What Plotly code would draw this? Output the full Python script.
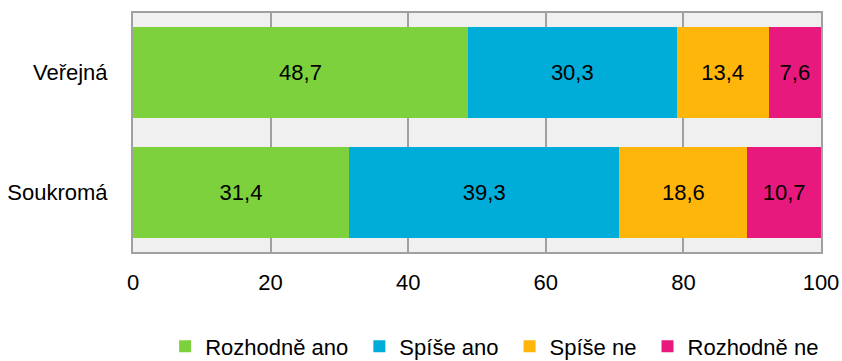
import plotly.graph_objects as go

# Survey answers by school type (percent shares)
categories = ["Veřejná", "Soukromá"]
series_names = ["Rozhodně ano", "Spíše ano", "Spíše ne", "Rozhodně ne"]
rozhodne_ano = [48.7, 31.4]
spise_ano = [30.3, 39.3]
spise_ne = [13.4, 18.6]
rozhodne_ne = [7.6, 10.7]
x_ticks = [0, 20, 40, 60, 80, 100]

series_values = [rozhodne_ano, spise_ano, spise_ne, rozhodne_ne]
colors = ["#7DD13C", "#00ADD9", "#FFB60A", "#E8197C"]

FONT = "Liberation Sans, Arial, sans-serif"
FS = 22

fig = go.Figure()
for name, vals, col in zip(series_names, series_values, colors):
    fig.add_trace(go.Bar(
        y=categories,
        x=vals,
        # non-breaking space widens the gap to the next legend entry
        name=name + "\u00a0",
        orientation="h",
        marker=dict(color=col, line=dict(width=0)),
        text=[f"{v:.1f}".replace(".", ",") for v in vals],
        textposition="inside",
        insidetextanchor="middle",
        textfont=dict(family=FONT, size=FS, color="#000000"),
    ))

fig.update_layout(
    barmode="stack",
    bargap=0.24,
    width=842,
    height=361,
    margin=dict(l=133, r=21, t=13, b=109, autoexpand=False),
    paper_bgcolor="#FFFFFF",
    plot_bgcolor="#F0F0F0",
    font=dict(family=FONT, size=FS, color="#000000"),
    uniformtext=dict(mode="show", minsize=FS),
    showlegend=True,
    legend=dict(
        orientation="h",
        x=0.53,
        xanchor="center",
        y=-0.395,
        yanchor="middle",
        font=dict(family=FONT, size=FS, color="#000000"),
        itemwidth=30,
        traceorder="normal",
    ),
)

fig.update_xaxes(
    range=[0, 100],
    tickvals=x_ticks,
    ticktext=[str(t) for t in x_ticks],
    showgrid=True,
    gridcolor="#A0A0A0",
    gridwidth=2,
    showline=True,
    linecolor="#A0A0A0",
    linewidth=2,
    mirror=True,
    zeroline=False,
    ticks="",
    ticklabelstandoff=10,
    automargin=False,
    tickfont=dict(family=FONT, size=FS),
)
fig.update_yaxes(
    categoryorder="array",
    categoryarray=categories,
    autorange="reversed",
    showgrid=False,
    showline=True,
    linecolor="#A0A0A0",
    linewidth=2,
    mirror=True,
    ticks="",
    ticklabelstandoff=19,
    automargin=False,
    tickfont=dict(family=FONT, size=FS),
)

fig.write_html("out.html")
